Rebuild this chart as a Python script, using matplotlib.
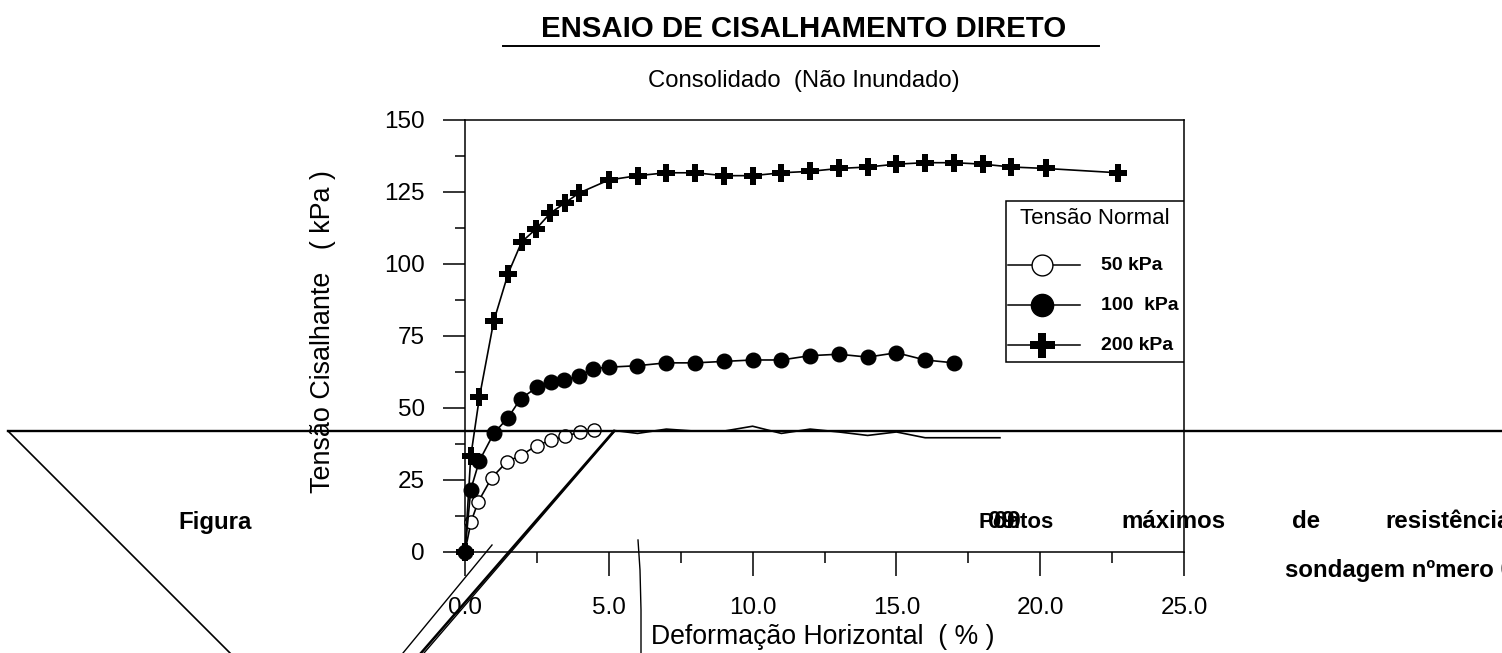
import matplotlib.pyplot as plt
from matplotlib.lines import Line2D

W, H = 1502, 653

x_50 = [0, 0.21, 0.46, 0.93, 1.46, 1.93, 2.5, 3, 3.46, 4, 4.5]
y_50 = [0, 10.3, 17.3, 25.6, 31.2, 33.3, 36.8, 38.7, 40, 41.4, 42.2]
# tail of the 50 kPa curve, markers lost in the original
x_50_tail = [5.2, 6, 7, 8, 9, 10, 11, 12, 13, 14, 15, 16, 17, 18.6]
y_50_tail = [42, 41, 42.5, 41.8, 41.8, 43.5, 41, 42.5, 41.5, 40.3, 41.5, 39.5, 39.5, 39.5]
x_100 = [0, 0.2, 0.5, 1, 1.5, 1.93, 2.5, 2.98, 3.45, 3.97, 4.45, 5, 5.97, 7, 8, 9, 10, 11, 12, 13, 14, 15, 16, 17]
y_100 = [0, 21.5, 31.5, 41, 46.5, 53, 57, 59, 59.5, 61, 63.5, 64, 64.5, 65.5, 65.5, 66, 66.5, 66.5, 68, 68.5, 67.5, 69, 66.5, 65.5]
x_200 = [0, 0.2, 0.5, 1, 1.5, 1.97, 2.47, 2.97, 3.47, 3.97, 5, 6, 7, 8, 9, 10, 11, 12, 13, 14, 15, 16, 17, 18, 19, 20.2, 22.7]
y_200 = [0, 33, 53.5, 80, 96.5, 107.5, 112, 117.5, 121, 124.5, 129, 130.5, 131.5, 131.5, 130.5, 130.5, 131.5, 132, 133, 133.5, 134.5, 135, 135, 134.5, 133.5, 133, 131.5]

x_ticks = [0, 5, 10, 15, 20, 25]
x_minor = [2.5, 7.5, 12.5, 17.5, 22.5]
y_ticks = [0, 25, 50, 75, 100, 125, 150]
y_minor = [12.5, 37.5, 62.5, 87.5, 112.5, 137.5]
legend_labels = ['50 kPa', '100  kPa', '200 kPa']

plt.rcParams['font.family'] = ['Liberation Sans', 'DejaVu Sans']


def fx(x):
    return x / W


def fy(y):
    return 1 - y / H


def fig_line(xs, ys, lw):
    fig.add_artist(Line2D([fx(v) for v in xs], [fy(v) for v in ys], color='black', lw=lw))


def fig_text(x, y, s, **kw):
    fig.text(fx(x), fy(y), s, va='center', **kw)


fig = plt.figure(figsize=(W / 100, H / 100), dpi=100)
ax = fig.add_axes([fx(465), fy(551.5), fx(1184 - 465), (551.5 - 119.5) / H])

ax.plot(x_50, y_50, '-', color='black', lw=1.2, marker='o', ms=9.5, mfc='white', mew=1.0, clip_on=False, zorder=3)
ax.plot(x_50_tail, y_50_tail, '-', color='black', lw=1.2, clip_on=False, zorder=3)
ax.plot(x_100, y_100, '-', color='black', lw=1.2, marker='o', ms=10.5, clip_on=False, zorder=4)
ax.plot(x_200, y_200, '-', color='black', lw=1.2, marker='P', ms=13, mew=0, clip_on=False, zorder=4)

ax.set_xlim(0, 25)
ax.set_ylim(0, 150)
ax.set_xticks(x_ticks)
ax.set_xticks(x_minor, minor=True)
ax.set_yticks(y_ticks)
ax.set_yticks(y_minor, minor=True)
ax.set_xticklabels(['%.1f' % v for v in x_ticks], fontsize=17.5)
ax.set_yticklabels([str(v) for v in y_ticks], fontsize=17.5)
ax.tick_params(axis='x', which='major', length=17, width=1.1, pad=16)
ax.tick_params(axis='x', which='minor', length=8, width=1.1)
ax.tick_params(axis='y', which='major', length=16, width=1.1, pad=13)
ax.tick_params(axis='y', which='minor', length=7, width=1.1)
for s in ax.spines.values():
    s.set_linewidth(1.1)

fig_text(804, 29, 'ENSAIO DE CISALHAMENTO DIRETO', fontsize=21.2, fontweight='bold', ha='center')
fig_line([503, 1099], [46, 46], 1.4)
fig_text(804, 81, 'Consolidado  (Não Inundado)', fontsize=17.2, ha='center')
fig_text(323, 331.5, 'Tensão Cisalhante   ( kPa )', fontsize=19.4, ha='center', rotation=90)
fig_text(823, 637, 'Deformação Horizontal  ( % )', fontsize=19.2, ha='center')

# legend box
ax.add_patch(plt.Rectangle((fx(1006), fy(362)), fx(1184 - 1006), (362 - 201) / H, transform=fig.transFigure,
                           fc='white', ec='black', lw=1.1, zorder=5))
fig_text(1095, 218, 'Tensão Normal', fontsize=16, ha='center', zorder=6)
leg_y = [265, 305, 345]
leg_style = [dict(marker='o', ms=15, mfc='white', mew=1.0), dict(marker='o', ms=16),
             dict(marker='P', ms=18, mew=0)]
for y, st, lab in zip(leg_y, leg_style, legend_labels):
    ax.add_line(Line2D([fx(1008), fx(1080)], [fy(y), fy(y)], transform=fig.transFigure, color='black',
                       lw=1.1, zorder=6))
    ax.add_line(Line2D([fx(1042)], [fy(y)], transform=fig.transFigure, color='black', zorder=7, **st))
    fig_text(1101, y + 1, lab, fontsize=14, fontweight='bold', zorder=6)

# stray page shapes lying over the chart
fig_line([230, 8], [653, 431], 1.2)
fig_line([8, 1502], [431, 431], 1.7)
fig_line([421, 614], [653, 431], 1.8)
fig_line([424, 615], [653, 431], 1.0)
fig_line([403, 492], [653, 545], 1.0)
fig_line([638, 640, 641, 641], [540, 570, 610, 653], 1.0)

# page text behind it
cap = dict(fontsize=17.3, fontweight='bold')
fig_text(178, 522, 'Figura', **cap)
fig_text(1054, 522, 'Pontos', fontsize=16, fontweight='bold', ha='right')
fig_text(988, 522, '09', **cap)
fig_text(994, 522, '09', **cap)
fig_text(1121, 522, 'máximos', **cap)
fig_text(1292, 522, 'de', **cap)
fig_text(1385, 522, 'resistência', **cap)
fig_text(1285, 570, 'sondagem nºmero 01', **cap)

fig.savefig('out.png', dpi=100)
